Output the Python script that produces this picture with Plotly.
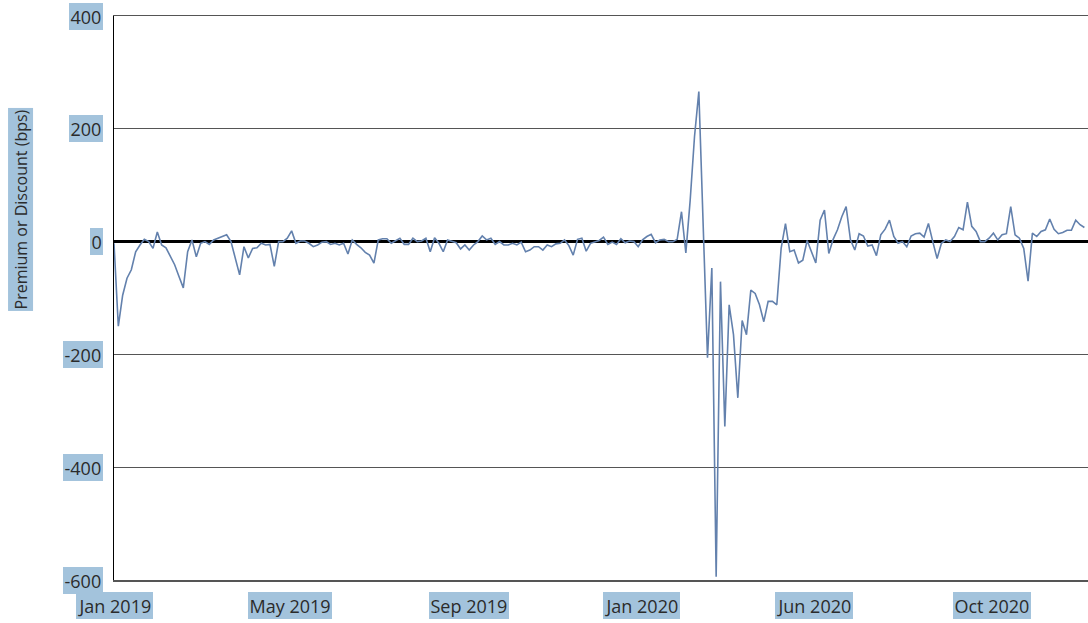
import pandas as pd
import plotly.graph_objects as go

# Premium / discount in bps, one reading every 3 calendar days from 2019-01-01
premium_bps = [
    -3, -150, -95, -65, -50, -18, -6, 4, 0, -12,
    17, -6, -11, -27, -41, -62, -82, -18, 3, -27,
    -3, 0, -5, 3, 6, 9, 12, 0, -29, -59,
    -9, -29, -12, -11, -3, -6, -5, -44, 0, 0,
    6, 19, -3, 1, 1, -3, -9, -6, -1, 0,
    -5, -3, -6, -3, -22, 3, -5,
    -11, -19, -24, -38, 3, 5, 5, -3, 1, 6,
    -5, -5, 6, 0, 1, 6, -18, 7, -3, -18,
    3, 0, -2, -13, -6, -15, -6, 0, 10, 3,
    6, -5, 0, -6, -6, -3, -6, -1, -18, -15,
    -9, -9, -15, -6, -9, -4, -3, 3, -7, -24,
    4, 6, -17, -3, 0, 2, 8, -5, -1, -5,
    5, -2, 1, 0, -9, 3, 9, 13,
    -2, 3, 4, 0, 0, 4, 53, -20, 73, 186,
    266, 42, -206, -47, -594, -71, -328, -112, -165, -277,
    -140, -165, -86, -92, -112, -142, -106, -106, -112, -12,
    32, -18, -15, -38, -33, 2, -18, -38, 38, 56,
    -21, 4, 21, 44, 62, 3, -15, 14, 10, -8,
    -6, -25, 12, 22, 38, 9, -3, 0, -9, 10,
    14, 15, 8, 32, 0, -30, -3, 3, 0, 9,
    25, 21, 70, 27, 18, 0, 0, 6, 15, 3,
    12, 14, 62, 12, 6, -12, -70, 15, 9, 18,
    21, 40, 22, 14, 16, 20, 20, 38, 30, 25,
]
start_date = "2019-01-01"
step = "3D"
dates = pd.date_range(start_date, periods=len(premium_bps), freq=step)

x_range = ["2019-01-01", "2020-11-05 12:00"]
x_tick_vals = ["2019-01-01", "2019-05-03", "2019-09-04", "2020-01-01", "2020-04-30", "2020-08-31"]
x_tick_text = ["Jan 2019", "May 2019", "Sep 2019", "Jan 2020", "Jun 2020", "Oct 2020"]
y_tick_vals = [400, 200, 0, -200, -400, -600]
y_tick_text = ["400", "200", "0", "-200", "-400", "-600"]
y_title = "Premium or Discount (bps)"

HL = "#a3c3dc"
TXT = "#2b2b2b"
FONT = "Open Sans"

fig = go.Figure()
fig.add_trace(go.Scatter(
    x=dates, y=premium_bps, mode="lines",
    line=dict(color="#6381ad", width=1.6),
    hoverinfo="skip", showlegend=False,
))

annotations = []
for v, t in zip(y_tick_vals, y_tick_text):
    annotations.append(dict(
        x=0, xref="paper", y=v, yref="y", text=t, showarrow=False,
        xanchor="right", yanchor="middle", xshift=-11,
        font=dict(family=FONT, size=18, color=TXT),
        bgcolor=HL, borderpad=1.5, borderwidth=0,
    ))
for v, t in zip(x_tick_vals, x_tick_text):
    annotations.append(dict(
        x=v, xref="x", y=0, yref="paper", text=t, showarrow=False,
        xanchor="center", yanchor="top", yshift=-12,
        font=dict(family=FONT, size=18, color=TXT),
        bgcolor=HL, borderpad=1.5, borderwidth=0,
    ))
annotations.append(dict(
    x=0, xref="paper", y=0.657, yref="paper", text=y_title, showarrow=False,
    textangle=-90, xanchor="center", yanchor="middle", xshift=-93.5,
    font=dict(family=FONT, size=16, color=TXT),
    bgcolor=HL, borderpad=1.5, borderwidth=0,
))

fig.update_layout(
    width=1088, height=623,
    margin=dict(l=114, r=0, t=16, b=43),
    paper_bgcolor="white", plot_bgcolor="white",
    annotations=annotations,
    xaxis=dict(
        type="date", range=x_range, showgrid=False, showticklabels=False,
        showline=True, mirror=True, linecolor="#555555", linewidth=1.5,
        ticks="", zeroline=False,
    ),
    yaxis=dict(
        range=[-600, 400], tickvals=y_tick_vals, showticklabels=False,
        showgrid=True, gridcolor="#555555", gridwidth=1,
        showline=True, linecolor="black", linewidth=1.5, ticks="",
        zeroline=True, zerolinecolor="black", zerolinewidth=3,
    ),
)

fig.write_html(
    "out.html",
    config={"displayModeBar": False, "staticPlot": True},
    post_script="document.body.style.margin='0';document.body.style.overflow='hidden';",
)
